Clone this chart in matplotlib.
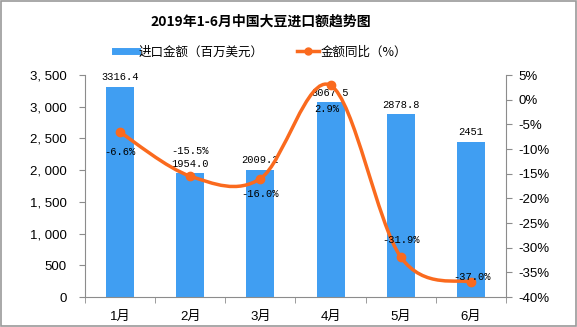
import matplotlib
matplotlib.use('Agg')
import matplotlib.pyplot as plt
from matplotlib.path import Path
from matplotlib.patches import PathPatch, Rectangle
from matplotlib.lines import Line2D
from matplotlib.ticker import FuncFormatter, MultipleLocator

plt.rcParams['font.family'] = ['Liberation Sans', 'Noto Sans CJK SC', 'DejaVu Sans']

months = ['1月', '2月', '3月', '4月', '5月', '6月']
import_value = [3316.4, 1954.0, 2009.2, 3067.5, 2878.8, 2451]
value_labels = ['3316.4', '1954.0', '2009.2', '3067.5', '2878.8', '2451']
yoy_pct = [-6.6, -15.5, -16.0, 2.9, -31.9, -37.0]
yoy_labels = ['-6.6%', '-15.5%', '-16.0%', '2.9%', '-31.9%', '-37.0%']

BLUE = '#409EF2'
ORANGE = '#FA6A1E'
GRAY = '#8C8C8C'


def smooth_path(xs, ys):
    # excel-like smoothed line: bezier segments with catmull-rom control points
    pts = list(zip(xs, ys))
    verts = [pts[0]]
    codes = [Path.MOVETO]
    n = len(pts)
    for i in range(n - 1):
        p0 = pts[i - 1] if i > 0 else pts[i]
        p1 = pts[i]
        p2 = pts[i + 1]
        p3 = pts[i + 2] if i + 2 < n else pts[i + 1]
        c1 = (p1[0] + (p2[0] - p0[0]) / 6, p1[1] + (p2[1] - p0[1]) / 6)
        c2 = (p2[0] - (p3[0] - p1[0]) / 6, p2[1] - (p3[1] - p1[1]) / 6)
        verts += [c1, c2, p2]
        codes += [Path.CURVE4] * 3
    return Path(verts, codes)


def main():
    fig = plt.figure(figsize=(5.77, 3.27), dpi=100)
    ax1 = fig.add_axes([85 / 577, 1 - 297 / 327, 421 / 577, 222 / 327])
    x = list(range(len(months)))

    # bars
    ax1.bar(x, import_value, width=0.4, color=BLUE, zorder=2)
    for xi, v, lab in zip(x, import_value, value_labels):
        ax1.annotate(lab, (xi, v), xytext=(0, 3), textcoords='offset points',
                     ha='center', va='bottom', fontsize=7.5, family='Liberation Mono', zorder=5)
    ax1.set_xlim(-0.5, 5.5)
    ax1.set_ylim(0, 3500)
    ax1.yaxis.set_major_locator(MultipleLocator(500))
    ax1.yaxis.set_major_formatter(FuncFormatter(lambda v, p: f'{int(v):,}'.replace(',', ', ')))
    ax1.set_xticks(x)
    ax1.set_xticklabels(months)
    ax1.set_xticks([i - 0.5 for i in range(len(months) + 1)], minor=True)
    ax1.tick_params(axis='x', which='major', length=0, pad=10, labelsize=9.5)
    ax1.tick_params(axis='x', which='minor', length=4, color=GRAY)
    ax1.tick_params(axis='y', length=4, color=GRAY, labelsize=9.5, pad=9)
    for s in ['top', 'right']:
        ax1.spines[s].set_visible(False)
    for s in ['left', 'bottom']:
        ax1.spines[s].set_color(GRAY)

    # yoy line on right axis
    ax2 = ax1.twinx()
    ax2.set_ylim(-40, 5)
    ax2.yaxis.set_major_locator(MultipleLocator(5))
    ax2.yaxis.set_major_formatter(FuncFormatter(lambda v, p: f'{int(round(v))}%'))
    ax2.tick_params(axis='y', length=4, color=GRAY, labelsize=9.5, pad=5)
    for s in ['top', 'left', 'bottom']:
        ax2.spines[s].set_visible(False)
    ax2.spines['right'].set_color(GRAY)
    ax2.add_patch(PathPatch(smooth_path(x, yoy_pct), fill=False, edgecolor=ORANGE, lw=2.5, zorder=3))
    ax2.plot(x, yoy_pct, linestyle='none', marker='o', markersize=6, color=ORANGE, zorder=4)
    offsets = [(0, -14), (0, 18), (0, -11), (-3, -17), (0, 12), (1, 4)]
    for xi, v, lab, off in zip(x, yoy_pct, yoy_labels, offsets):
        ax2.annotate(lab, (xi, v), xytext=off, textcoords='offset points',
                     ha='center', va='center', fontsize=7.5, family='Liberation Mono', zorder=5)

    # title and legend
    fig.text(261 / 577, 1 - 22 / 327, '2019年1-6月中国大豆进口额趋势图', ha='center', va='center',
             fontsize=10, fontweight='bold', family=['Noto Sans CJK SC'])
    handles = [Line2D([], [], color=BLUE, lw=5),
               Line2D([], [], color=ORANGE, lw=2.5, marker='o', markersize=5)]
    fig.legend(handles, ['进口金额（百万美元）', '金额同比（%）'], loc='center',
               bbox_to_anchor=(261 / 577, 1 - 52 / 327), ncol=2, frameon=False,
               prop={'family': 'Noto Sans CJK SC', 'size': 9}, handlelength=1.8,
               handletextpad=0.15, columnspacing=2.6)

    # image border
    fig.add_artist(Rectangle((0.002, 0.004), 0.996, 0.994, transform=fig.transFigure,
                             fill=False, edgecolor='#9A9A9A', lw=1.2))

    fig.savefig('out.png', dpi=100)


if __name__ == "__main__":
    main()
